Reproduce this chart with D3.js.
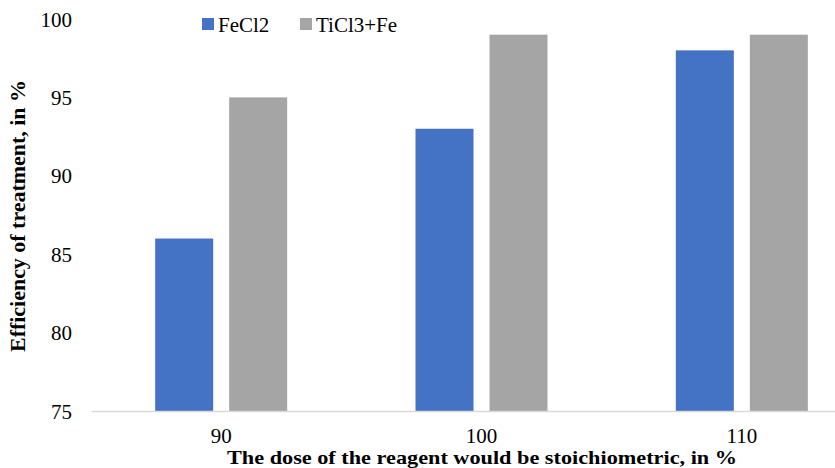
<!DOCTYPE html>
<html>
<head>
<meta charset="utf-8">
<script src="https://cdn.jsdelivr.net/npm/d3@7"></script>
<style>
  html, body { margin: 0; padding: 0; background: #fff; }
  svg { display: block; }
  svg text { font-family: "Liberation Serif", Tinos, "Times New Roman", "DejaVu Serif", serif !important; fill: #000; }
</style>
</head>
<body>
<svg id="chart" width="835" height="468"></svg>
<script>
// Reagent dose (% of stoichiometric) and treatment efficiency (%)
const categories = ["90", "100", "110"];
const seriesNames = ["FeCl2", "TiCl3+Fe"];
const fecl2Values = [86, 93, 98];
const ticl3feValues = [95, 99, 99];
const yTicks = [75, 80, 85, 90, 95, 100];
const colors = ["#4472C4", "#A5A5A5"];

const seriesValues = [fecl2Values, ticl3feValues];
const rows = categories.map((c, i) => ({
  category: c,
  values: seriesNames.map((s, j) => ({ series: s, value: seriesValues[j][i], color: colors[j] }))
}));

const svg = d3.select("#chart");

const x = d3.scaleBand().domain(categories).range([91, 872]).paddingInner(0).paddingOuter(0);
const xs = d3.scaleBand().domain(seriesNames).range([-66, 66]).paddingInner(16 / 74).paddingOuter(0);
const y = d3.scaleLinear().domain([75, 100]).range([411, 19]);

// Bars
const groups = svg.append("g").selectAll("g")
  .data(rows).join("g")
  .attr("transform", d => `translate(${x(d.category) + x.bandwidth() / 2},0)`);

groups.selectAll("rect")
  .data(d => d.values).join("rect")
  .attr("x", d => xs(d.series))
  .attr("width", xs.bandwidth())
  .attr("y", d => y(d.value))
  .attr("height", d => y(75) - y(d.value))
  .attr("fill", d => d.color);

// Y axis (labels only)
const yAxis = svg.append("g")
  .attr("transform", "translate(72,0)")
  .call(d3.axisLeft(y).tickValues(yTicks).tickSize(0).tickPadding(0));
yAxis.attr("font-family", null);
yAxis.select(".domain").remove();
yAxis.selectAll("text")
  .attr("font-size", 21)
  .attr("fill", "#000")
  .attr("dy", "0.34em");

// X axis
const xAxis = svg.append("g")
  .attr("transform", `translate(0,${y(75)})`)
  .call(d3.axisBottom(x).tickSize(0).tickPadding(0));
xAxis.attr("font-family", null);
xAxis.select(".domain")
  .attr("stroke", "#D9D9D9")
  .attr("stroke-width", 1.5);
xAxis.selectAll("text")
  .attr("font-size", 21)
  .attr("fill", "#000")
  .attr("dy", null)
  .attr("y", 32);

// Axis titles
svg.append("text")
  .attr("x", 482)
  .attr("y", 464)
  .attr("text-anchor", "middle")
  .attr("font-size", 19)
  .attr("font-weight", "bold")
  .attr("textLength", 510)
  .attr("lengthAdjust", "spacingAndGlyphs")
  .text("The dose of the reagent would be stoichiometric, in %");

svg.append("text")
  .attr("transform", "translate(25,216) rotate(-90)")
  .attr("text-anchor", "middle")
  .attr("font-size", 20)
  .attr("font-weight", "bold")
  .attr("textLength", 272)
  .attr("lengthAdjust", "spacingAndGlyphs")
  .text("Efficiency of treatment, in %");

// Legend
const legendX = [202, 300];
const legend = svg.append("g").selectAll("g")
  .data(seriesNames).join("g")
  .attr("transform", (d, i) => `translate(${legendX[i]},0)`);
legend.append("rect")
  .attr("x", 0).attr("y", 18)
  .attr("width", 12).attr("height", 12)
  .attr("fill", (d, i) => colors[i]);
legend.append("text")
  .attr("x", 16).attr("y", 32)
  .attr("font-size", 21)
  .text(d => d);
</script>
</body>
</html>
